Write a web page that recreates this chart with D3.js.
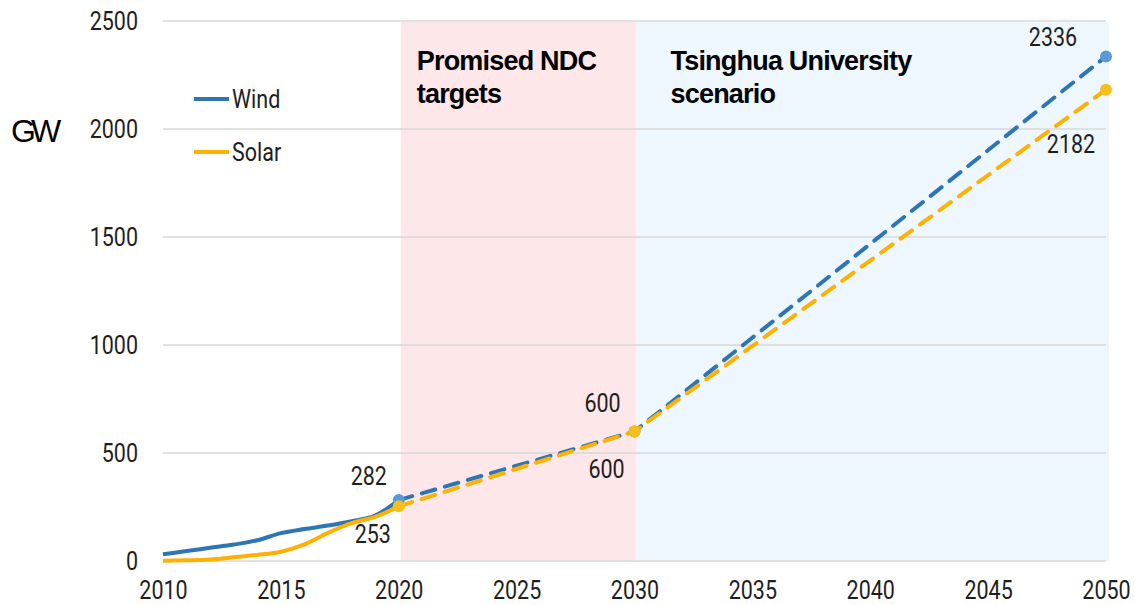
<!DOCTYPE html>
<html>
<head>
<meta charset="utf-8">
<script src="https://cdn.jsdelivr.net/npm/d3@7"></script>
<style>
  html, body { margin: 0; padding: 0; background: #fff; }
  svg { display: block; }
  .num { font-family: "Roboto", "DejaVu Sans Condensed", sans-serif; font-size: 25px; fill: #1e1e1e; }
  .band-title { font-family: "Liberation Sans", Arial, sans-serif; font-weight: bold; font-size: 27px; fill: #000; letter-spacing: -0.8px; }
</style>
</head>
<body>
<svg id="chart" width="1135" height="605"></svg>
<script>
// Installed capacity, GW
const histYears  = [2010, 2011, 2012, 2013, 2014, 2015, 2016, 2017, 2018, 2019, 2020];
const windHist   = [31, 46, 61, 76, 96, 129, 148, 164, 184, 210, 282];
const solarHist  = [1, 3, 7, 17, 28, 43, 77, 130, 175, 204, 253];

const projYears  = [2020, 2030, 2050];
const windProj   = [282, 600, 2336];
const solarProj  = [253, 600, 2182];

const xTicks = [2010, 2015, 2020, 2025, 2030, 2035, 2040, 2045, 2050];
const yTicks = [0, 500, 1000, 1500, 2000, 2500];

const bands = [
  { from: 2020, to: 2030, fill: "#fde7e8", title: ["Promised NDC", "targets"], pad: 18 },
  { from: 2030, to: 2050, fill: "#eff7fe", title: ["Tsinghua University", "scenario"], pad: 36 }
];

const windColor = "#2e75b6", windDot = "#5b9bd5";
const solarColor = "#ffb000", solarDot = "#f5bf1c";

// narrow rendering of the numeric labels
const NARROW = 0.86;

const svg = d3.select("#chart");
const x = d3.scaleLinear().domain([2010, 2050]).range([163, 1106]);
const y = d3.scaleLinear().domain([0, 2500]).range([561, 21]);

// Shaded scenario bands
svg.append("g").selectAll("rect").data(bands).join("rect")
  .attr("x", d => x(d.from) + 2)
  .attr("width", d => x(d.to) - x(d.from) + (d.to === 2050 ? 1 : 0))
  .attr("y", y(2500) + 1)
  .attr("height", y(0) - y(2500) - 1)
  .attr("fill", d => d.fill);

// Horizontal gridlines
svg.append("g").selectAll("line").data(yTicks).join("line")
  .attr("x1", x(2010)).attr("x2", x(2050))
  .attr("y1", d => y(d)).attr("y2", d => y(d))
  .attr("stroke", "#d9d9d9").attr("stroke-width", 1.5);

// Axes (labels only)
const yAxis = svg.append("g").attr("transform", `translate(${x(2010) - 25},0)`)
  .call(d3.axisLeft(y).tickValues(yTicks).tickSize(0).tickPadding(0).tickFormat(d3.format("d")));
yAxis.select(".domain").remove();
yAxis.selectAll("text").attr("class", "num").attr("dy", "0.35em")
  .attr("transform", `scale(${NARROW},1)`);

const xAxis = svg.append("g").attr("transform", `translate(0,${y(0) + 20})`)
  .call(d3.axisBottom(x).tickValues(xTicks).tickSize(0).tickPadding(0).tickFormat(d3.format("d")));
xAxis.select(".domain").remove();
xAxis.selectAll("text").attr("class", "num").attr("dy", "0.71em")
  .attr("transform", `scale(${NARROW},1)`);

// Band titles
bands.forEach(b => {
  const t = svg.append("text").attr("class", "band-title")
    .attr("x", x(b.from) + b.pad).attr("y", 70);
  b.title.forEach((line, i) => {
    t.append("tspan").attr("x", x(b.from) + b.pad).attr("dy", i === 0 ? 0 : 33).text(line);
  });
});

// Unit label
svg.append("text").attr("x", 11).attr("y", 142)
  .style("font-family", "Liberation Sans, Arial, sans-serif")
  .style("font-size", "32px").style("letter-spacing", "-5px").attr("fill", "#000")
  .text("GW");

// Lines
const histLine = d3.line().x(d => x(d[0])).y(d => y(d[1])).curve(d3.curveMonotoneX);
const projLine = d3.line().x(d => x(d[0])).y(d => y(d[1]));

const series = [
  { hist: windHist, proj: windProj, color: windColor, dot: windDot },
  { hist: solarHist, proj: solarProj, color: solarColor, dot: solarDot }
];

series.forEach(s => {
  svg.append("path")
    .attr("d", projLine(d3.zip(projYears, s.proj)))
    .attr("fill", "none").attr("stroke", s.color).attr("stroke-width", 4)
    .attr("stroke-dasharray", "14 10").attr("stroke-linecap", "round");
});

series.forEach(s => {
  svg.append("path")
    .attr("d", histLine(d3.zip(histYears, s.hist)))
    .attr("fill", "none").attr("stroke", s.color).attr("stroke-width", 4)
    .attr("stroke-linejoin", "round");
});

// Point markers at 2020, 2030, 2050
series.forEach(s => {
  svg.append("g").selectAll("circle").data(d3.zip(projYears, s.proj)).join("circle")
    .attr("cx", d => x(d[0])).attr("cy", d => y(d[1])).attr("r", 6)
    .attr("fill", s.dot);
});

// Value annotations
const annotations = [
  { year: 2020, value: windProj[0], dx: -30, dy: -15 },
  { year: 2020, value: solarProj[0], dx: -26, dy: 37 },
  { year: 2030, value: windProj[1], dx: -32, dy: -19 },
  { year: 2030, value: solarProj[1], dx: -28, dy: 47 },
  { year: 2050, value: windProj[2], dx: -53, dy: -10 },
  { year: 2050, value: solarProj[2], dx: -35, dy: 63 }
];
svg.append("g").selectAll("text").data(annotations).join("text")
  .attr("class", "num").attr("text-anchor", "middle")
  .attr("transform", d => `translate(${x(d.year) + d.dx},${y(d.value) + d.dy}) scale(${NARROW},1)`)
  .text(d => d.value);

// Legend
const legend = [
  { name: "Wind", color: windColor, yy: 99 },
  { name: "Solar", color: solarColor, yy: 152 }
];
const lg = svg.append("g").selectAll("g").data(legend).join("g");
lg.append("line").attr("x1", 194).attr("x2", 229)
  .attr("y1", d => d.yy).attr("y2", d => d.yy)
  .attr("stroke", d => d.color).attr("stroke-width", 4);
lg.append("text").attr("class", "num")
  .attr("transform", d => `translate(232,${d.yy + 9}) scale(${NARROW},1)`)
  .text(d => d.name);
</script>
</body>
</html>
